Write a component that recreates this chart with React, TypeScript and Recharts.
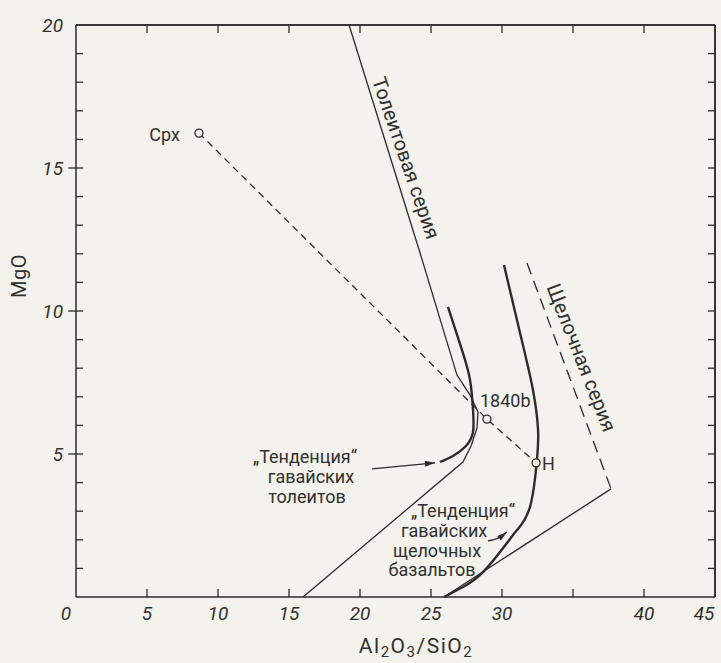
import React from "react";
import { LineChart, Line, XAxis, YAxis, ReferenceDot, ReferenceLine } from "recharts";

const W = 721;
const H = 663;
const INK = "#2b2b2b";
const TEXT = "#303030";
const PAPER = "#f4f2ec";
const FONT = "Roboto, 'DejaVu Sans', sans-serif";

// axes
const X_MAX = 45;
const Y_MAX = 20;
const xTicks = [0, 5, 10, 15, 20, 25, 30, 35, 40, 45];
const xInnerTicks = [5, 10, 15, 20, 25, 30, 35, 40];
const yLabelTicks = [5, 10, 15, 20];
const yInnerTicks = [1, 2, 3, 4, 5, 6, 7, 8, 9, 10, 11, 12, 13, 14, 15, 16, 17, 18, 19];
const xUnlabelled = [35];

// Толеитовая серия (thin boundary line)
const tholeiiteSeries = [
  { x: 19.23, y: 20.0 },
  { x: 24.23, y: 12.03 },
  { x: 26.83, y: 7.76 },
  { x: 27.75, y: 7.06 },
  { x: 28.31, y: 6.47 },
  { x: 28.24, y: 5.91 },
  { x: 27.82, y: 5.28 },
  { x: 27.25, y: 4.72 },
  { x: 15.99, y: 0 },
];

// Щелочная серия: dashed upper part, solid lower part
const alkalineSeriesUpper = [
  { x: 31.76, y: 11.68 },
  { x: 37.68, y: 3.78 },
];
const alkalineSeriesLower = [
  { x: 37.68, y: 3.78 },
  { x: 25.92, y: 0 },
];

// "Тенденция" гавайских толеитов (thick curve)
const tholeiiteTrend = [
  { x: 26.2, y: 10.14 },
  { x: 27.18, y: 8.64 },
  { x: 27.75, y: 7.59 },
  { x: 27.96, y: 6.54 },
  { x: 27.96, y: 5.77 },
  { x: 27.46, y: 5.28 },
  { x: 26.55, y: 4.93 },
  { x: 25.63, y: 4.72 },
];

// "Тенденция" гавайских щелочных базальтов (thick curve)
const alkalineTrend = [
  { x: 30.14, y: 11.61 },
  { x: 31.27, y: 9.23 },
  { x: 32.18, y: 7.24 },
  { x: 32.54, y: 5.84 },
  { x: 32.46, y: 4.79 },
  { x: 31.97, y: 3.15 },
  { x: 31.06, y: 2.34 },
  { x: 30.35, y: 1.89 },
  { x: 28.66, y: 0.87 },
  { x: 27.25, y: 0.35 },
  { x: 25.92, y: 0 },
];

// dashed line Cpx -> 1840b -> H
const mixingLine = [
  { x: 8.66, y: 16.22 },
  { x: 28.94, y: 6.22 },
  { x: 32.4, y: 4.69 },
];

const samples = [
  { name: "Cpx", x: 8.66, y: 16.22 },
  { name: "1840b", x: 28.94, y: 6.22 },
  { name: "H", x: 32.4, y: 4.69 },
];

// label arrows
const tholeiiteArrow = [
  { x: 20.85, y: 4.48 },
  { x: 25.28, y: 4.69 },
];
const alkalineArrow = [
  { x: 29.01, y: 1.96 },
  { x: 29.72, y: 2.06 },
  { x: 30.35, y: 2.27 },
];

type NoteLine = { text: string; dx?: number; dy?: number };
type NoteOpts = {
  lines: NoteLine[];
  anchor?: "start" | "middle" | "end";
  angle?: number;
  size?: number;
};

// label content rendered at a ReferenceDot position
const note =
  ({ lines, anchor = "middle", angle = 0, size = 18 }: NoteOpts) =>
  (props: any) => {
    const vb = props.viewBox;
    const cx = vb.x + vb.width / 2;
    const cy = vb.y + vb.height / 2;
    return (
      <g transform={angle ? `rotate(${angle} ${cx} ${cy})` : undefined}>
        {lines.map((l, i) => (
          <text
            key={i}
            x={cx + (l.dx ?? 0)}
            y={cy + (l.dy ?? 0)}
            textAnchor={anchor}
            dominantBaseline="central"
            fontSize={size}
            fontFamily={FONT}
            fill={TEXT}
          >
            {l.text}
          </text>
        ))}
      </g>
    );
  };

const sampleLabels: Record<string, NoteOpts> = {
  Cpx: { lines: [{ text: "Cpx", dx: -19, dy: 1 }], anchor: "end" },
  "1840b": { lines: [{ text: "1840b", dx: -7, dy: -19 }], anchor: "start" },
  H: { lines: [{ text: "H", dx: 6, dy: 1 }], anchor: "start" },
};

const BottomTick = ({ x, y, payload }: any) => {
  const v = payload.value;
  if (xUnlabelled.includes(v)) return <g />;
  const shift = v === 0 ? -10 : v === X_MAX ? -11 : 0;
  return (
    <text x={x + shift} y={y + 23} textAnchor="middle" fontSize={19} fontStyle="italic" fontFamily={FONT} fill={TEXT}>
      {v}
    </text>
  );
};

const LeftTick = ({ x, y, payload }: any) => (
  <text x={x - 13} y={y + 6.5} textAnchor="end" fontSize={19} fontStyle="italic" fontFamily={FONT} fill={TEXT}>
    {payload.value}
  </text>
);

const XTitle = (props: any) => {
  const vb = props.viewBox;
  return (
    <text x={vb.x + 340} y={vb.y + 56} textAnchor="middle" fontSize={21} letterSpacing={1.5} fontFamily={FONT} fill={TEXT}>
      Al<tspan dy={4} fontSize={15}>2</tspan>
      <tspan dy={-4}>O</tspan>
      <tspan dy={4} fontSize={15}>3</tspan>
      <tspan dy={-4}>/SiO</tspan>
      <tspan dy={4} fontSize={15}>2</tspan>
    </text>
  );
};

const YTitle = (props: any) => {
  const vb = props.viewBox;
  const cx = 19;
  const cy = vb.y + 251;
  return (
    <text x={cx} y={cy} transform={`rotate(-90 ${cx} ${cy})`} textAnchor="middle" dominantBaseline="central" fontSize={20} letterSpacing={0.5} fontFamily={FONT} fill={TEXT}>
      MgO
    </text>
  );
};

const ids = { xAxisId: "b", yAxisId: "l" } as const;
const thin = { ...ids, stroke: INK, strokeWidth: 1.3, dot: false, activeDot: false, isAnimationActive: false } as const;
const tickStyle = { ...ids, stroke: INK, strokeWidth: 1.3, ifOverflow: "visible" } as const;

// tick lengths in data units (x: 14.2 px/unit, y: 28.6 px/unit)
const TX = 0.5;
const TY = 0.28;

export default function App() {
  return (
    <div style={{ position: "absolute", left: 0, top: 0, width: W, height: H, background: PAPER }}>
      <svg width={0} height={0} style={{ position: "absolute" }}>
        <defs>
          <marker id="arrowhead" viewBox="0 0 10 6" refX="10" refY="3" markerWidth="11" markerHeight="6" orient="auto" markerUnits="userSpaceOnUse">
            <path d="M0,0 L10,3 L0,6 z" fill={INK} />
          </marker>
        </defs>
      </svg>
      <LineChart width={W} height={H} margin={{ top: 24, right: 5, bottom: 0, left: 0 }}>
        <XAxis
          xAxisId="b"
          type="number"
          dataKey="x"
          domain={[0, X_MAX]}
          ticks={xTicks}
          interval={0}
          tickSize={0}
          tickMargin={0}
          tickLine={false}
          tick={BottomTick}
          axisLine={{ stroke: INK, strokeWidth: 1.5 }}
          height={66}
          label={{ content: XTitle }}
        />
        {/* top border of the frame */}
        <XAxis
          xAxisId="t"
          orientation="top"
          type="number"
          dataKey="x"
          domain={[0, X_MAX]}
          ticks={xInnerTicks}
          interval={0}
          tick={false}
          tickLine={false}
          axisLine={{ stroke: INK, strokeWidth: 1.5 }}
          height={1}
        />
        <YAxis
          yAxisId="l"
          type="number"
          domain={[0, Y_MAX]}
          ticks={yLabelTicks}
          interval={0}
          tickSize={0}
          tickMargin={0}
          tickLine={false}
          tick={LeftTick}
          axisLine={{ stroke: INK, strokeWidth: 1.5 }}
          width={76}
          label={{ content: YTitle }}
        />
        {/* right border of the frame */}
        <YAxis
          yAxisId="r"
          orientation="right"
          type="number"
          domain={[0, Y_MAX]}
          ticks={yInnerTicks}
          interval={0}
          tick={false}
          tickLine={false}
          axisLine={{ stroke: INK, strokeWidth: 1.5 }}
          width={1}
        />

        {/* backup frame lines and inward ticks on all four sides */}
        <ReferenceLine {...ids} y={Y_MAX} stroke={INK} strokeWidth={1.5} ifOverflow="visible" />
        <ReferenceLine {...ids} x={X_MAX} stroke={INK} strokeWidth={1.5} ifOverflow="visible" />
        {xInnerTicks.map((t) => (
          <ReferenceLine key={`b${t}`} {...tickStyle} segment={[{ x: t, y: 0 }, { x: t, y: TY }]} />
        ))}
        {xInnerTicks.map((t) => (
          <ReferenceLine key={`t${t}`} {...tickStyle} segment={[{ x: t, y: Y_MAX }, { x: t, y: Y_MAX - TY }]} />
        ))}
        {yInnerTicks.map((t) => (
          <ReferenceLine
            key={`l${t}`}
            {...tickStyle}
            segment={[{ x: t % 5 === 0 ? -TX * 1.1 : 0, y: t }, { x: TX, y: t }]}
          />
        ))}
        {yInnerTicks.map((t) => (
          <ReferenceLine key={`r${t}`} {...tickStyle} segment={[{ x: X_MAX, y: t }, { x: X_MAX - TX, y: t }]} />
        ))}

        <Line {...thin} data={tholeiiteSeries} dataKey="y" type="linear" />
        <Line {...thin} data={alkalineSeriesUpper} dataKey="y" type="linear" strokeDasharray="12 7" />
        <Line {...thin} data={alkalineSeriesLower} dataKey="y" type="linear" />
        {/* the dashed mixing line is bound to the top/right axes so they are drawn */}
        <Line {...thin} xAxisId="t" yAxisId="r" data={mixingLine} dataKey="y" type="linear" strokeDasharray="7 5" />
        <Line {...thin} data={tholeiiteTrend} dataKey="y" type="natural" strokeWidth={2.4} />
        <Line {...thin} data={alkalineTrend} dataKey="y" type="natural" strokeWidth={2.4} />
        <Line {...thin} data={tholeiiteArrow} dataKey="y" type="linear" markerEnd="url(#arrowhead)" />
        <Line {...thin} data={alkalineArrow} dataKey="y" type="natural" markerEnd="url(#arrowhead)" />

        {samples.map((s) => (
          <ReferenceDot
            key={s.name}
            {...ids}
            x={s.x}
            y={s.y}
            r={4}
            fill={PAPER}
            stroke={INK}
            strokeWidth={1.3}
            label={{ content: note(sampleLabels[s.name]) }}
          />
        ))}

        <ReferenceDot
          {...ids}
          x={23.24}
          y={15.35}
          r={0}
          label={{ content: note({ lines: [{ text: "Толеитовая серия" }], angle: 71, size: 20 }) }}
        />
        <ReferenceDot
          {...ids}
          x={35.6}
          y={8.37}
          r={0}
          label={{ content: note({ lines: [{ text: "Щелочная серия" }], angle: 68.5, size: 20 }) }}
        />
        <ReferenceDot
          {...ids}
          x={16.55}
          y={4.2}
          r={0}
          label={{
            content: note({
              lines: [
                { text: "„Тенденция“", dx: -6, dy: -20 },
                { text: "гавайских" },
                { text: "толеитов", dx: -4, dy: 20 },
              ],
            }),
          }}
        />
        <ReferenceDot
          {...ids}
          x={25.92}
          y={2.34}
          r={0}
          label={{
            content: note({
              lines: [
                { text: "„Тенденция“", dx: 19, dy: -20 },
                { text: "гавайских" },
                { text: "щелочных", dx: -7, dy: 20 },
                { text: "базальтов", dx: -12, dy: 39 },
              ],
            }),
          }}
        />
      </LineChart>
    </div>
  );
}
